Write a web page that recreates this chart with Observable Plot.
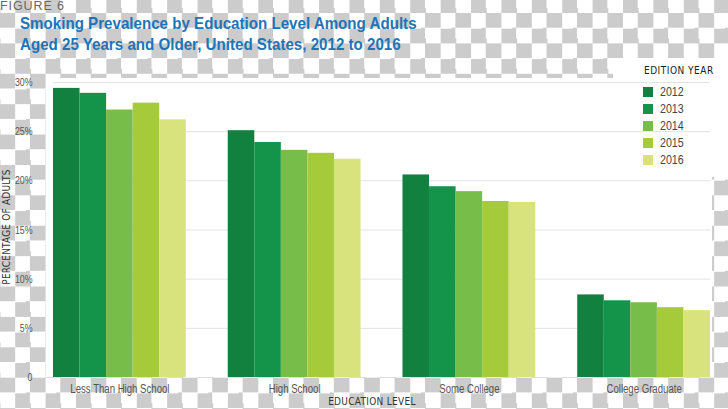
<!DOCTYPE html>
<html><head><meta charset="utf-8">
<script src="https://cdn.jsdelivr.net/npm/d3@7"></script>
<script src="https://cdn.jsdelivr.net/npm/@observablehq/plot@0.6"></script>
<style>
html,body{margin:0;padding:0;}
body{width:728px;height:409px;overflow:hidden;position:relative;
  background: repeating-conic-gradient(#cccccc 0 25%, #ffffff 0 50%) 15.2px 13px / 30.4px 30.4px;
  font-family:"Liberation Sans", Arial, sans-serif;}
.abs{position:absolute;}
#plotbg{left:46px;top:78px;width:666px;height:299px;background:#fff;}
#legbg{left:613px;top:58px;width:115px;height:119px;background:#fff;}
#fig{left:0;top:0;font-size:12.5px;line-height:13px;height:13px;color:#666;letter-spacing:0.9px;white-space:nowrap;}
#title{left:20px;top:13px;font-size:17px;line-height:21px;font-weight:bold;color:#1b75bb;white-space:nowrap;transform:scaleX(0.89);transform-origin:0 0;}
#chart{left:0;top:0;}
#legtitle{left:644px;top:65px;font-family:"DejaVu Sans Condensed","DejaVu Sans",sans-serif;font-size:10px;color:#222;letter-spacing:0.5px;white-space:nowrap;}
.item{position:absolute;left:643px;height:12px;white-space:nowrap;}
.sw{position:absolute;left:0;top:1px;width:10px;height:10px;}
.lab{position:absolute;left:17px;top:-2px;font-family:"Liberation Sans",Arial,sans-serif;font-size:13px;color:#444;transform:scaleX(0.82);transform-origin:0 0;}
#ylab{left:6px;top:227px;transform:translate(-50%,-50%) rotate(-90deg);font-family:"DejaVu Sans Condensed","DejaVu Sans",sans-serif;font-size:10px;color:#333;white-space:nowrap;letter-spacing:0.2px;}
#xlab{left:372px;top:401px;transform:translate(-50%,-50%);font-family:"DejaVu Sans Condensed","DejaVu Sans",sans-serif;font-size:10px;color:#333;white-space:nowrap;letter-spacing:0.3px;}
</style>
</head><body>
<div id="plotbg" class="abs"></div>
<div id="legbg" class="abs"></div>
<div id="chart" class="abs"></div>
<div id="fig" class="abs">FIGURE 6</div>
<div id="title" class="abs">Smoking Prevalence by Education Level Among Adults<br>Aged 25 Years and Older, United States, 2012 to 2016</div>
<div id="legtitle" class="abs">EDITION YEAR</div>
<div id="legend"></div>
<div id="ylab" class="abs">PERCENTAGE OF ADULTS</div>
<div id="xlab" class="abs">EDUCATION LEVEL</div>
<script>
const education = ["Less Than High School", "High School", "Some College", "College Graduate"];
const years = ["2012", "2013", "2014", "2015", "2016"];
const v2012 = [29.4, 25.1, 20.6, 8.4];
const v2013 = [28.9, 23.9, 19.4, 7.8];
const v2014 = [27.2, 23.1, 18.9, 7.6];
const v2015 = [27.9, 22.8, 17.9, 7.1];
const v2016 = [26.2, 22.2, 17.8, 6.8];
const yearColors = ["#12803f", "#13944a", "#77bd4a", "#a6cb3a", "#d9e37e"];
const yTicks = [0, 5, 10, 15, 20, 25, 30];

const series = [v2012, v2013, v2014, v2015, v2016];
const gap = 1.58; // gap between groups, in bar widths
const step = years.length + gap;
const rows = education.flatMap((e, gi) => years.map((y, yi) => ({
  edu: e, year: y, value: series[yi][gi],
  x1: gi * step + yi, x2: gi * step + yi + 1
})));
const centers = education.map((e, gi) => gi * step + years.length / 2);

const chart = Plot.plot({
  width: 728, height: 409,
  marginTop: 82, marginBottom: 32, marginLeft: 53, marginRight: 18,
  style: {background: "transparent", fontFamily: "'Liberation Sans',Arial,sans-serif", overflow: "visible"},
  x: {domain: [0, (education.length - 1) * step + years.length], axis: null},
  y: {domain: [0, 30], axis: null},
  color: {domain: years, range: yearColors},
  marks: [
    Plot.ruleY(yTicks.filter(t => t > 0), {stroke: "#e3e3e3", strokeWidth: 1}),
    Plot.rectY(rows, {x1: "x1", x2: "x2", y: "value", fill: "year"}),
    Plot.axisY(yTicks, {tickSize: 0, tickPadding: 21, tickFormat: d => d === 0 ? "0" : d + "%", fontSize: 11, fill: "#555", label: null}),
    Plot.axisX(centers, {tickSize: 0, tickPadding: 7, tickFormat: d => education[Math.round((d - years.length / 2) / step)], fontSize: 12, fill: "#555", label: null})
  ]
});
document.getElementById("chart").appendChild(chart);
// condensed look for tick labels
chart.querySelectorAll("text").forEach(t => {
  const w = t.getComputedTextLength();
  if (w > 0) {
    t.setAttribute("textLength", w * 0.8);
    t.setAttribute("lengthAdjust", "spacingAndGlyphs");
  }
});

const leg = document.getElementById("legend");
years.forEach((y, i) => {
  const it = document.createElement("div");
  it.className = "item";
  it.style.top = (86 + i * 17) + "px";
  it.innerHTML = `<div class="sw" style="background:${yearColors[i]}"></div><div class="lab">${y}</div>`;
  leg.appendChild(it);
});
</script>
</body></html>
